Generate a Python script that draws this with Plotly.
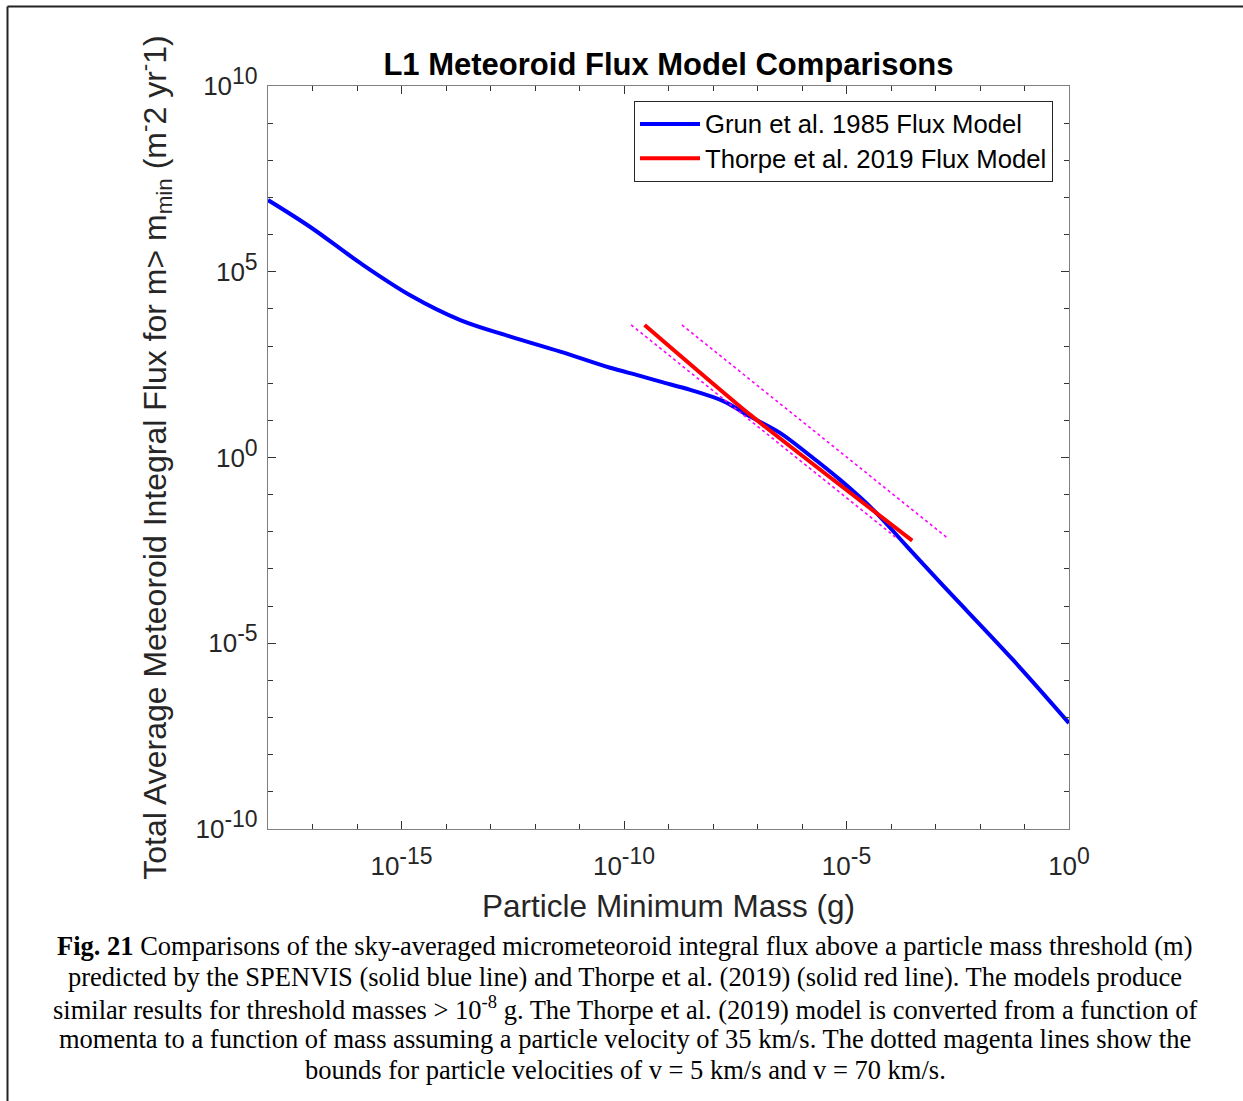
import plotly.graph_objects as go

# ---------------- data ----------------
grun_mass = [1e-18, 8.9e-18, 1.2e-16, 1.6e-15, 2.1e-14, 2.8e-13, 3.7e-12, 4.9e-11,
             2.2e-10, 6.6e-10, 3.1e-9, 1.7e-8, 6.9e-8, 3.2e-7, 1.3e-6, 7.2e-6, 4.0e-5,
             2.3e-4, 1.3e-3, 5.6e-2, 1.0]
grun_flux = [8.5e6, 1.6e6, 1.7e5, 2.3e4, 5.0e3, 1.8e3, 7.1e2, 2.6e2,
             1.6e2, 1.1e2, 66, 33, 12.6, 4.6, 1.3, 0.25, 0.039,
             4.0e-3, 4.2e-4, 3.5e-6, 7.1e-8]

thorpe_mass = [2.9e-10, 6.9e-8, 3.0e-4]
thorpe_flux = [3.7e3, 14, 5.8e-3]

v5_mass = [1.45e-10, 1.26e-4]
v5_flux = [3.7e3, 7.2e-3]
v70_mass = [2.0e-9, 1.95e-3]
v70_flux = [3.7e3, 6.5e-3]

series_names = ["Grun et al. 1985 Flux Model", "Thorpe et al. 2019 Flux Model"]

SUP = "<sup><span style='font-size:23px'>%s</span></sup>"
x_major = [1e-15, 1e-10, 1e-5, 1e0]
x_major_text = ["10" + SUP % "-15", "10" + SUP % "-10", "10" + SUP % "-5", "10" + SUP % "0"]
x_minor = [10.0 ** e for e in range(-18, 1)]
y_major = [1e-10, 1e-5, 1e0, 1e5, 1e10]
y_major_text = ["10" + SUP % "-10", "10" + SUP % "-5", "10" + SUP % "0", "10" + SUP % "5", "10" + SUP % "10"]
y_minor = [10.0 ** e for e in range(-10, 11)]

title_text = "<b>L1 Meteoroid Flux Model Comparisons</b>"
x_title = "Particle Minimum Mass (g)"
y_title = "Total Average Meteoroid Integral Flux for m> m<sub>min</sub> (m<sup>-</sup>2 yr<sup>-</sup>1)"
caption_lines = [
    "<b>Fig. 21</b> Comparisons of the sky-averaged micrometeoroid integral flux above a particle mass threshold (m)",
    "predicted by the SPENVIS (solid blue line) and Thorpe et al. (2019) (solid red line). The models produce",
    "similar results for threshold masses &gt; 10<sup>-8</sup> g. The Thorpe et al. (2019) model is converted from a function of",
    "momenta to a function of mass assuming a particle velocity of 35 km/s. The dotted magenta lines show the",
    "bounds for particle velocities of v = 5 km/s and v = 70 km/s.",
]

# ---------------- layout geometry ----------------
W, H = 1243, 1101
L, R, T, B = 268, 1069, 86, 829


def px(xp):
    return (xp - L) / (R - L)


def py(yp):
    return (B - yp) / (B - T)


SANS = "Liberation Sans, Arial, Helvetica, sans-serif"
SERIF = "Liberation Serif, Times New Roman, serif"
LEG = "<span style='font-size:25.7px'>%s</span>"

fig = go.Figure()
fig.add_trace(go.Scatter(x=grun_mass, y=grun_flux, mode="lines", name=LEG % series_names[0],
                         line=dict(color="#0000ff", width=4, shape="spline", smoothing=1.0)))
fig.add_trace(go.Scatter(x=thorpe_mass, y=thorpe_flux, mode="lines", name=LEG % series_names[1],
                         line=dict(color="#ff0000", width=4, shape="spline", smoothing=0.6)))
fig.add_trace(go.Scatter(x=v5_mass, y=v5_flux, mode="lines", showlegend=False, name="v = 5 km/s",
                         line=dict(color="#ff00ff", width=1.6, dash="dot")))
fig.add_trace(go.Scatter(x=v70_mass, y=v70_flux, mode="lines", showlegend=False, name="v = 70 km/s",
                         line=dict(color="#ff00ff", width=1.6, dash="dot")))

axis_common = dict(
    type="log", showgrid=False, zeroline=False, showline=True, linecolor="#808080", linewidth=1.3,
    mirror="ticks", ticks="inside", ticklen=8, tickwidth=1.2, tickcolor="#333333",
    tickfont=dict(family=SANS, size=26, color="#262626"),
)

fig.update_layout(
    width=W, height=H,
    margin=dict(l=L, r=W - R, t=T, b=H - B, pad=0),
    paper_bgcolor="white", plot_bgcolor="white",
    title=dict(text=title_text, x=0.5, xref="paper", y=1 - 64 / H, yanchor="middle",
               font=dict(family=SANS, size=31, color="black")),
    xaxis=dict(axis_common, range=[-18, 0], tickmode="array", tickvals=x_major, ticktext=x_major_text,
               ticklabelstandoff=14,
               minor=dict(tickmode="array", tickvals=x_minor, ticks="inside", ticklen=5, tickcolor="#333333"),
               title=dict(text=x_title, font=dict(family=SANS, size=31.5, color="#262626"), standoff=14)),
    yaxis=dict(axis_common, range=[-10, 10], tickmode="array", tickvals=y_major, ticktext=y_major_text,
               ticklabelstandoff=4,
               minor=dict(tickmode="array", tickvals=y_minor, ticks="inside", ticklen=5, tickcolor="#333333"),
               title=dict(text=y_title, font=dict(family=SANS, size=32, color="#262626"), standoff=19)),
    legend=dict(x=px(1053), y=py(101), xanchor="right", yanchor="top", itemwidth=60,
                bgcolor="white", bordercolor="#262626", borderwidth=1,
                font=dict(family=SANS, size=24, color="black")),
    showlegend=True,
)

# caption
caption_y = [946, 977, 1008, 1039, 1070]
for txt, yy in zip(caption_lines, caption_y):
    fig.add_annotation(text=txt, x=px(625), y=py(yy), xref="paper", yref="paper",
                       xanchor="center", yanchor="middle", showarrow=False,
                       font=dict(family=SERIF, size=26.5, color="black"))

# frame of the figure image
fig.add_shape(type="line", xref="paper", yref="paper", x0=px(7.5), x1=px(W + 5), y0=py(6.5), y1=py(6.5),
              line=dict(color="#222222", width=2))
fig.add_shape(type="line", xref="paper", yref="paper", x0=px(7.5), x1=px(7.5), y0=py(6.5), y1=py(H + 5),
              line=dict(color="#222222", width=2))

fig.write_html("out.html")
